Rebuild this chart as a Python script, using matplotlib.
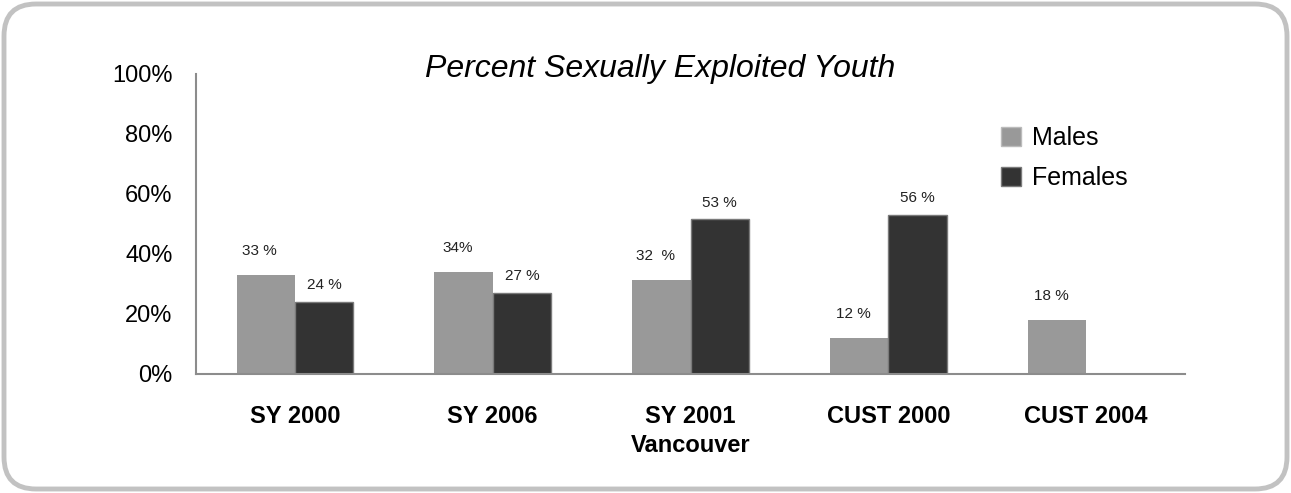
import matplotlib.pyplot as plt
import numpy as np
from matplotlib.patches import FancyBboxPatch, Patch

# data
groups = ["SY 2000", "SY 2006", "SY 2001\nVancouver", "CUST 2000", "CUST 2004"]
males = [33, 34, 31.5, 12, 18]
females = [24, 27, 51.5, 53, 0]
male_labels = ["33 %", "34%", "32  %", "12 %", "18 %"]
female_labels = ["24 %", "27 %", "53 %", "56 %", ""]
yticks = [0, 20, 40, 60, 80, 100]

plt.rcParams['font.family'] = ['Liberation Sans', 'DejaVu Sans']

W, H = 1291, 493
fig = plt.figure(figsize=(W / 100, H / 100), dpi=100)

# rounded frame round the whole picture
bg = fig.add_axes([0, 0, 1, 1])
bg.set_xlim(0, W)
bg.set_ylim(0, H)
bg.axis('off')
bg.add_patch(FancyBboxPatch((4, 4), W - 8, H - 8,
                            boxstyle="round,pad=0,rounding_size=32",
                            facecolor='white', edgecolor='#c2c2c2', linewidth=3.5))

ax = fig.add_axes([196 / W, 1 - 374 / H, 989 / W, 300 / H])
ax.patch.set_alpha(0)

x = np.arange(len(groups))
w = 0.295
ax.bar(x - w / 2, males, w, color='#999999', label="Males")
ax.bar(x + w / 2, females, w, color='#333333', edgecolor='#7a7a7a',
       linewidth=1, label="Females")

for xi, v, t in zip(x, males, male_labels):
    ax.annotate(t, (xi - w / 2 - 0.03, v), xytext=(0, 12), textcoords='offset points',
                ha='center', va='bottom', fontsize=11, color='#222222')
for xi, v, t in zip(x, females, female_labels):
    ax.annotate(t, (xi + w / 2, v), xytext=(0, 7), textcoords='offset points',
                ha='center', va='bottom', fontsize=11, color='#222222')

ax.set_xlim(-0.5, len(groups) - 0.5)
ax.set_ylim(0, 100)
ax.set_yticks(yticks)
ax.set_yticklabels([f"{v}%" for v in yticks], fontsize=17)
ax.set_xticks(x)
ax.set_xticklabels(groups, fontsize=17, fontweight='bold', linespacing=1.35)
ax.tick_params(axis='y', length=0, pad=17)
ax.tick_params(axis='x', length=0, pad=22)
for s in ['top', 'right']:
    ax.spines[s].set_visible(False)
for s in ['left', 'bottom']:
    ax.spines[s].set_color('#8c8c8c')
    ax.spines[s].set_linewidth(1.5)

fig.text(660 / W, 1 - 69 / H, "Percent Sexually Exploited Youth", fontsize=23,
         style='italic', ha='center', va='center')

handles = [Patch(facecolor='#999999', edgecolor='#bbbbbb'),
           Patch(facecolor='#333333', edgecolor='#7a7a7a')]
ax.legend(handles, ["Males", "Females"], loc='upper left',
          bbox_to_anchor=(1001 / W, 1 - 126 / H), bbox_transform=fig.transFigure,
          frameon=False, fontsize=18, handlelength=0.8, handleheight=0.8,
          handletextpad=0.45, labelspacing=0.65, borderpad=0, borderaxespad=0)

fig.savefig("out.png", dpi=100)
